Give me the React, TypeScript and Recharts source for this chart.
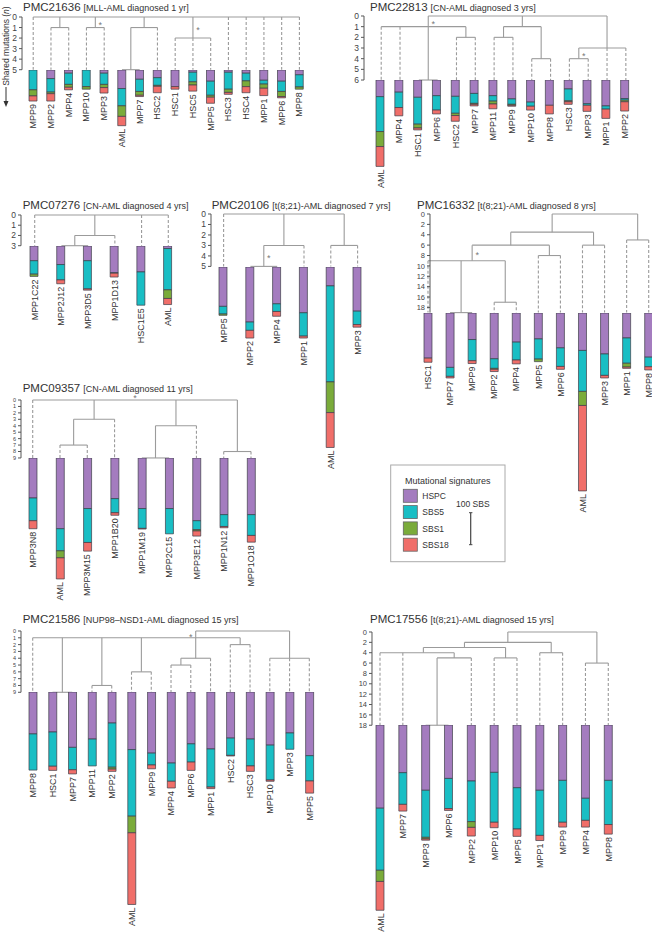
import React from 'react';
import { ComposedChart, Bar, XAxis, YAxis, Scatter, ReferenceLine } from 'recharts';

type TNode = string | { d: number; c: TNode[]; x?: number; star?: 'r' | 'l' | 't' };

const FONT = '"Liberation Sans", Arial, Helvetica, sans-serif';
const PX_PER_SBS = 0.32;
const SIGNATURES = ['HSPC', 'SBS5', 'SBS1', 'SBS18'];
const COLORS: Record<string, string> = { HSPC: '#a47cbf', SBS5: '#19bec4', SBS1: '#7aab3a', SBS18: '#f06e69' };

// ---------- PMC21636 ----------
const p1Names = ['MPP9', 'MPP2', 'MPP4', 'MPP10', 'MPP3', 'AML', 'MPP7', 'HSC2', 'HSC1', 'HSC5', 'MPP5', 'HSC3', 'HSC4', 'MPP1', 'MPP6', 'MPP8'];
const p1HSPC = [0, 27, 10, 0, 10, 58, 29, 24, 52, 7, 35, 7, 10, 32, 35, 15];
const p1SBS5 = [62, 42, 35, 52, 35, 54, 38, 24, 0, 30, 44, 53, 24, 12, 32, 38];
const p1SBS1 = [19, 5, 9, 8, 10, 33, 12, 3, 0, 10, 6, 10, 18, 13, 16, 7];
const p1SBS18 = [16, 23, 8, 0, 17, 29, 4, 20, 8, 19, 19, 6, 19, 23, 4, 0];
const p1Ticks = [0, 1, 2, 3, 4, 5];
const p1Tree: TNode = {
  d: 0,
  c: [
    'MPP9',
    { d: 1, c: ['MPP2', 'MPP4'] },
    { d: 1, c: ['MPP10', 'MPP3'], star: 'r' },
    { d: 1, c: [{ d: 5, c: ['AML', 'MPP7'] }, 'HSC2'] },
    { d: 2, c: ['HSC1', 'HSC5', 'MPP5'], star: 'r' },
    'HSC3', 'HSC4', 'MPP1', 'MPP6', 'MPP8',
  ],
};

// ---------- PMC22813 ----------
const p2Names = ['AML', 'MPP4', 'HSC1', 'MPP6', 'HSC2', 'MPP7', 'MPP11', 'MPP9', 'MPP10', 'MPP8', 'HSC3', 'MPP3', 'MPP1', 'MPP2'];
const p2HSPC = [52, 38, 54, 49, 51, 42, 49, 59, 69, 79, 28, 74, 81, 58];
const p2SBS5 = [109, 48, 84, 45, 53, 31, 17, 17, 13, 0, 37, 5, 10, 5];
const p2SBS1 = [47, 0, 12, 0, 7, 3, 9, 3, 0, 0, 3, 0, 0, 5];
const p2SBS18 = [62, 26, 6, 12, 18, 5, 15, 3, 12, 27, 8, 19, 29, 29];
const p2Ticks = [0, 1, 2, 3, 4, 5, 6];
const p2Tree: TNode = {
  d: 0,
  c: [
    { d: 1, x: 2.5, star: 'r', c: ['AML', 'MPP4', { d: 6, c: ['HSC1', 'MPP6'] }, { d: 2, c: ['HSC2', 'MPP7'] }] },
    { d: 1, c: [{ d: 2, c: ['MPP11', 'MPP9'] }, { d: 4, c: ['MPP10', 'MPP8'] }] },
    { d: 3, x: 12, c: [{ d: 4, star: 'r', c: ['HSC3', 'MPP3'] }, 'MPP1', 'MPP2'] },
  ],
};

// ---------- PMC07276 ----------
const p3Names = ['MPP1C22', 'MPP2J12', 'MPP3D5', 'MPP1D13', 'HSC1E5', 'AML'];
const p3HSPC = [46, 58, 46, 84, 81, 8];
const p3SBS5 = [42, 48, 88, 1, 104, 129];
const p3SBS1 = [7, 0, 0, 0, 0, 27];
const p3SBS18 = [0, 12, 4, 12, 0, 19];
const p3Ticks = [0, 1, 2, 3];
const p3Tree: TNode = {
  d: 0,
  c: ['MPP1C22', { d: 2, c: [{ d: 3, c: ['MPP2J12', 'MPP3D5'] }, 'MPP1D13'] }, 'HSC1E5', 'AML'],
};

// ---------- PMC20106 ----------
const p4Names = ['MPP5', 'MPP2', 'MPP4', 'MPP1', 'AML', 'MPP3'];
const p4HSPC = [123, 172, 115, 143, 59, 138];
const p4SBS5 = [24, 26, 24, 73, 300, 42];
const p4SBS1 = [4, 0, 0, 0, 96, 0];
const p4SBS18 = [0, 24, 15, 6, 109, 8];
const p4Ticks = [0, 1, 2, 3, 4, 5];
const p4Tree: TNode = {
  d: 0,
  c: ['MPP5', { d: 3, c: [{ d: 5, star: 'r', c: ['MPP2', 'MPP4'] }, 'MPP1'] }, { d: 3, c: ['AML', 'MPP3'] }],
};

// ---------- PMC16332 ----------
const p5Names = ['HSC1', 'MPP7', 'MPP9', 'MPP2', 'MPP4', 'MPP5', 'MPP6', 'AML', 'MPP3', 'MPP1', 'MPP8'];
const p5HSPC = [141, 170, 83, 143, 91, 81, 109, 117, 128, 78, 138];
const p5SBS5 = [0, 28, 66, 30, 56, 63, 58, 128, 67, 79, 30];
const p5SBS1 = [0, 0, 0, 3, 0, 8, 0, 44, 0, 12, 0];
const p5SBS18 = [13, 5, 9, 7, 12, 0, 9, 267, 8, 4, 10];
const p5Ticks = [0, 2, 4, 6, 8, 10, 12, 14, 16, 18];
const p5Tree: TNode = {
  d: 0,
  c: [
    {
      d: 3.5,
      c: [
        {
          d: 6,
          c: [
            { d: 9, x: 2, star: 'r', c: ['HSC1', { d: 19, c: ['MPP7', 'MPP9'] }, { d: 17, c: ['MPP2', 'MPP4'] }] },
            { d: 8, c: ['MPP5', 'MPP6'] },
          ],
        },
        { d: 6, c: ['AML', 'MPP3'] },
      ],
    },
    { d: 5, c: ['MPP1', 'MPP8'] },
  ],
};

// ---------- PMC09357 ----------
const p6Names = ['MPP3N8', 'AML', 'MPP3M15', 'MPP1B20', 'MPP1M19', 'MPP2C15', 'MPP3E12', 'MPP1N12', 'MPP1O18'];
const p6HSPC = [125, 221, 158, 127, 158, 158, 196, 177, 177];
const p6SBS5 = [71, 69, 106, 44, 62, 79, 28, 37, 65];
const p6SBS1 = [0, 22, 0, 0, 0, 0, 4, 0, 0];
const p6SBS18 = [25, 66, 27, 8, 2, 0, 16, 4, 21];
const p6Ticks = [0, 1, 2, 3, 4, 5, 6, 7, 8, 9];
const p6Tree: TNode = {
  d: 0,
  star: 't',
  c: [
    'MPP3N8',
    { d: 3, c: [{ d: 7, c: ['AML', 'MPP3M15'] }, 'MPP1B20'] },
    { d: 4, c: [{ d: 9, c: ['MPP1M19', 'MPP2C15'] }, 'MPP3E12'] },
    { d: 8, c: ['MPP1N12', 'MPP1O18'] },
  ],
};

// ---------- PMC21586 ----------
const p7Names = ['MPP8', 'HSC1', 'MPP7', 'MPP11', 'MPP2', 'AML', 'MPP9', 'MPP4', 'MPP6', 'MPP1', 'HSC2', 'HSC3', 'MPP10', 'MPP3', 'MPP5'];
const p7HSPC = [131, 125, 173, 147, 97, 180, 191, 222, 162, 178, 144, 147, 166, 128, 199];
const p7SBS5 = [113, 107, 70, 84, 138, 208, 37, 57, 57, 119, 54, 84, 109, 51, 79];
const p7SBS1 = [0, 0, 0, 0, 6, 52, 0, 0, 0, 0, 0, 0, 0, 0, 0];
const p7SBS18 = [0, 13, 13, 0, 7, 224, 12, 21, 26, 5, 2, 17, 4, 0, 38];
const p7Ticks = [0, 1, 2, 3, 4, 5, 6, 7, 8, 9];
const p7Tree: TNode = {
  d: 0,
  c: [
    {
      d: 1,
      x: 8.25,
      star: 'l',
      c: [
        'MPP8',
        { d: 9, c: ['HSC1', 'MPP7'] },
        { d: 8, c: ['MPP11', 'MPP2'] },
        { d: 6, c: ['AML', 'MPP9'] },
        { d: 4, c: [{ d: 5, c: ['MPP4', 'MPP6'] }, 'MPP1'] },
        { d: 2, c: ['HSC2', 'HSC3'] },
      ],
    },
    { d: 4, c: ['MPP10', 'MPP3', 'MPP5'] },
  ],
};

// ---------- PMC17556 ----------
const p8Names = ['AML', 'MPP7', 'MPP3', 'MPP6', 'MPP2', 'MPP10', 'MPP5', 'MPP1', 'MPP9', 'MPP4', 'MPP8'];
const p8HSPC = [260, 149, 204, 167, 175, 148, 196, 204, 173, 229, 173];
const p8SBS5 = [194, 99, 147, 94, 127, 156, 129, 141, 131, 69, 138];
const p8SBS1 = [35, 0, 5, 0, 18, 0, 0, 0, 0, 0, 0];
const p8SBS18 = [90, 21, 4, 6, 27, 17, 23, 16, 15, 21, 30];
const p8Ticks = [0, 2, 4, 6, 8, 10, 12, 14, 16, 18];
const p8Tree: TNode = {
  d: 0,
  c: [
    {
      d: 2,
      c: [
        {
          d: 3,
          c: [
            { d: 4, x: 1.9, c: ['AML', 'MPP7', { d: 5, c: [{ d: 18, c: ['MPP3', 'MPP6'] }, 'MPP2'] }] },
            { d: 5, c: ['MPP10', 'MPP5'] },
          ],
        },
        { d: 4, c: ['MPP1', 'MPP9'] },
      ],
    },
    { d: 6, c: ['MPP4', 'MPP8'] },
  ],
};

interface Layout {
  axisX: number; leaf0: number; sp: number; treeTop: number; pxPerD: number; maxD: number;
  tickFont: number; titleX: number; titleY: number;
}

interface PanelDef {
  id: string; sub: string; names: string[]; hspc: number[]; sbs5: number[]; sbs1: number[]; sbs18: number[];
  tree: TNode; ticks: number[]; layout: Layout;
}

const PANELS: PanelDef[] = [
  { id: 'PMC21636', sub: '[MLL-AML diagnosed 1 yr]', names: p1Names, hspc: p1HSPC, sbs5: p1SBS5, sbs1: p1SBS1, sbs18: p1SBS18, tree: p1Tree, ticks: p1Ticks,
    layout: { axisX: 21.5, leaf0: 32.7, sp: 17.75, treeTop: 17.3, pxPerD: 10.54, maxD: 5, tickFont: 8.5, titleX: 23, titleY: 10.5 } },
  { id: 'PMC22813', sub: '[CN-AML diagnosed 3 yrs]', names: p2Names, hspc: p2HSPC, sbs5: p2SBS5, sbs1: p2SBS1, sbs18: p2SBS18, tree: p2Tree, ticks: p2Ticks,
    layout: { axisX: 363.5, leaf0: 380.7, sp: 18.82, treeTop: 16, pxPerD: 10.67, maxD: 6, tickFont: 8.5, titleX: 370, titleY: 10.5 } },
  { id: 'PMC07276', sub: '[CN-AML diagnosed 4 yrs]', names: p3Names, hspc: p3HSPC, sbs5: p3SBS5, sbs1: p3SBS1, sbs18: p3SBS18, tree: p3Tree, ticks: p3Ticks,
    layout: { axisX: 21, leaf0: 34.7, sp: 26.72, treeTop: 215, pxPerD: 10.23, maxD: 3, tickFont: 8.5, titleX: 22.7, titleY: 208.5 } },
  { id: 'PMC20106', sub: '[t(8;21)-AML diagnosed 7 yrs]', names: p4Names, hspc: p4HSPC, sbs5: p4SBS5, sbs1: p4SBS1, sbs18: p4SBS18, tree: p4Tree, ticks: p4Ticks,
    layout: { axisX: 210.7, leaf0: 223.3, sp: 26.8, treeTop: 214.3, pxPerD: 10.48, maxD: 5, tickFont: 8.5, titleX: 211.7, titleY: 208.5 } },
  { id: 'PMC16332', sub: '[t(8;21)-AML diagnosed 8 yrs]', names: p5Names, hspc: p5HSPC, sbs5: p5SBS5, sbs1: p5SBS1, sbs18: p5SBS18, tree: p5Tree, ticks: p5Ticks,
    layout: { axisX: 430, leaf0: 428, sp: 22.07, treeTop: 214.3, pxPerD: 5.19, maxD: 19, tickFont: 7.5, titleX: 417, titleY: 208.5 } },
  { id: 'PMC09357', sub: '[CN-AML diagnosed 11 yrs]', names: p6Names, hspc: p6HSPC, sbs5: p6SBS5, sbs1: p6SBS1, sbs18: p6SBS18, tree: p6Tree, ticks: p6Ticks,
    layout: { axisX: 21, leaf0: 32.7, sp: 27.29, treeTop: 399.7, pxPerD: 6.44, maxD: 9, tickFont: 5.5, titleX: 22.7, titleY: 391.7 } },
  { id: 'PMC21586', sub: '[NUP98\u2013NSD1-AML diagnosed 15 yrs]', names: p7Names, hspc: p7HSPC, sbs5: p7SBS5, sbs1: p7SBS1, sbs18: p7SBS18, tree: p7Tree, ticks: p7Ticks,
    layout: { axisX: 21, leaf0: 32.7, sp: 19.76, treeTop: 631, pxPerD: 6.81, maxD: 9, tickFont: 5.5, titleX: 22.7, titleY: 623 } },
  { id: 'PMC17556', sub: '[t(8;21)-AML diagnosed 15 yrs]', names: p8Names, hspc: p8HSPC, sbs5: p8SBS5, sbs1: p8SBS1, sbs18: p8SBS18, tree: p8Tree, ticks: p8Ticks,
    layout: { axisX: 372, leaf0: 380, sp: 22.83, treeTop: 631.7, pxPerD: 5.18, maxD: 18, tickFont: 7.5, titleX: 370, titleY: 623 } },
];

interface Seg { x1: number; y1: number; x2: number; y2: number; dashed: boolean }

function buildTree(root: TNode, names: string[], maxD: number) {
  const segs: Seg[] = [];
  const nodes: { x: number; y: number; star?: string }[] = [];
  const walk = (n: TNode, parentD: number | null): number => {
    if (typeof n === 'string') {
      const x = names.indexOf(n);
      if (parentD !== null && maxD > parentD) segs.push({ x1: x, y1: parentD, x2: x, y2: maxD, dashed: true });
      return x;
    }
    const xs = n.c.map((ch) => walk(ch, n.d));
    const lo = Math.min(...xs);
    const hi = Math.max(...xs);
    const x = n.x !== undefined ? n.x : (xs[0] + xs[xs.length - 1]) / 2;
    segs.push({ x1: lo, y1: n.d, x2: hi, y2: n.d, dashed: false });
    if (parentD !== null) segs.push({ x1: x, y1: parentD, x2: x, y2: n.d, dashed: false });
    nodes.push({ x, y: n.star && parentD !== null ? (parentD + n.d) / 2 : n.d, star: n.star });
    return x;
  };
  walk(root, null);
  return { segs, nodes };
}

const StarShape = (props: any) => {
  const { cx, cy, payload } = props;
  if (!payload || !payload.star) return <g />;
  const dx = payload.star === 'r' ? 5 : payload.star === 'l' ? -5 : 0;
  const dy = payload.star === 't' ? -4 : 0;
  return (
    <text x={cx + dx} y={cy + dy} dy="0.6em" textAnchor="middle" fontSize={9} fill="#777" fontFamily={FONT}>
      *
    </text>
  );
};

const LeafLabel = (props: any) => {
  const { cx, cy, payload } = props;
  return (
    <text
      transform={`translate(${cx},${cy + 3}) rotate(-90)`}
      textAnchor="end"
      dy="0.35em"
      fontSize={9}
      fill="#333"
      fontFamily={FONT}
    >
      {payload.name}
    </text>
  );
};

function TreeChart({ p }: { p: PanelDef }) {
  const L = p.layout;
  const n = p.names.length;
  const { segs, nodes } = buildTree(p.tree, p.names, L.maxD);
  const YW = 34;
  const MT = 8;
  const MB = 6;
  const xMin = -(L.leaf0 - L.axisX) / L.sp;
  const xMax = n - 0.5;
  const plotW = (xMax - xMin) * L.sp;
  const plotH = L.maxD * L.pxPerD;
  return (
    <div style={{ position: 'absolute', left: L.axisX - YW, top: L.treeTop - MT }}>
      <ComposedChart width={YW + plotW} height={MT + plotH + MB} margin={{ top: MT, right: 0, bottom: MB, left: 0 }} data={nodes}>
        <XAxis type="number" dataKey="x" domain={[xMin, xMax]} hide />
        <YAxis
          type="number"
          dataKey="y"
          domain={[0, L.maxD]}
          reversed
          ticks={p.ticks}
          interval={0}
          width={YW}
          tickSize={3}
          tickMargin={2}
          stroke="#555"
          tick={{ fontSize: L.tickFont, fill: '#444', fontFamily: FONT }}
        />
        {segs.map((s, k) => (
          <ReferenceLine
            key={k}
            segment={[{ x: s.x1, y: s.y1 }, { x: s.x2, y: s.y2 }]}
            stroke="#9b9b9b"
            strokeWidth={1.1}
            strokeDasharray={s.dashed ? '3 2' : undefined}
            ifOverflow="visible"
          />
        ))}
        <Scatter dataKey="y" shape={StarShape} isAnimationActive={false} />
      </ComposedChart>
    </div>
  );
}

function BarsChart({ p }: { p: PanelDef }) {
  const L = p.layout;
  const n = p.names.length;
  const rows = p.names.map((name, i) => ({
    i,
    name,
    HSPC: p.hspc[i],
    SBS5: p.sbs5[i],
    SBS1: p.sbs1[i],
    SBS18: p.sbs18[i],
    total: p.hspc[i] + p.sbs5[i] + p.sbs1[i] + p.sbs18[i],
  }));
  const maxTotal = Math.max(...rows.map((r) => r.total));
  const plotH = Math.ceil(maxTotal * PX_PER_SBS + 45);
  const dmax = plotH / PX_PER_SBS;
  const barTop = L.treeTop + L.maxD * L.pxPerD;
  return (
    <div style={{ position: 'absolute', left: L.leaf0 - L.sp / 2, top: barTop }}>
      <ComposedChart width={n * L.sp} height={plotH} margin={{ top: 0, right: 0, bottom: 0, left: 0 }} data={rows}>
        <XAxis type="number" dataKey="i" domain={[-0.5, n - 0.5]} hide />
        <YAxis type="number" dataKey="total" domain={[0, dmax]} reversed hide />
        {SIGNATURES.map((s) => (
          <Bar key={s} dataKey={s} stackId="sig" fill={COLORS[s]} stroke="#3d3d48" strokeWidth={0.7} barSize={8} isAnimationActive={false} />
        ))}
        <Scatter dataKey="total" shape={LeafLabel} isAnimationActive={false} />
      </ComposedChart>
    </div>
  );
}

function Overlay() {
  const lx = 390.7;
  const ly = 465;
  return (
    <svg width={652} height={933} style={{ position: 'absolute', left: 0, top: 0 }}>
      {PANELS.map((p) => (
        <text key={p.id} x={p.layout.titleX} y={p.layout.titleY} fill="#333" fontFamily={FONT}>
          <tspan fontSize={11.5}>{p.id}</tspan>
          <tspan fontSize={9} dx={3}>{p.sub}</tspan>
        </text>
      ))}
      <text transform="translate(9,46) rotate(-90)" textAnchor="middle" fontSize={8.5} fill="#333" fontFamily={FONT}>
        Shared mutations (<tspan fontStyle="italic">n</tspan>)
      </text>
      <line x1={6} y1={87} x2={6} y2={102} stroke="#333" strokeWidth={1} />
      <polygon points="3.5,101 8.5,101 6,107" fill="#333" />
      <rect x={lx} y={ly} width={114.3} height={96.7} fill="#fff" stroke="#aaa" strokeWidth={1} />
      <text x={405} y={483.5} fontSize={9} fill="#333" fontFamily={FONT}>Mutational signatures</text>
      {SIGNATURES.map((s, k) => (
        <g key={s}>
          <rect x={403.3} y={489.3 + k * 16.3} width={14} height={13} fill={COLORS[s]} stroke="#666" strokeWidth={0.8} />
          <text x={422.3} y={499 + k * 16.3} fontSize={8.5} fill="#333" fontFamily={FONT}>{s}</text>
        </g>
      ))}
      <text x={456} y={507} fontSize={8.5} fill="#333" fontFamily={FONT}>100 SBS</text>
      <line x1={470.7} y1={512.7} x2={470.7} y2={512.7 + 100 * PX_PER_SBS} stroke="#444" strokeWidth={1.2} />
      <line x1={469} y1={512.7} x2={472.4} y2={512.7} stroke="#444" strokeWidth={1} />
      <line x1={469} y1={512.7 + 100 * PX_PER_SBS} x2={472.4} y2={512.7 + 100 * PX_PER_SBS} stroke="#444" strokeWidth={1} />
    </svg>
  );
}

export default function App() {
  return (
    <div style={{ position: 'absolute', left: 0, top: 0, width: 652, height: 933, background: '#fff', fontFamily: FONT }}>
      <Overlay />
      {PANELS.map((p) => (
        <React.Fragment key={p.id}>
          <TreeChart p={p} />
          <BarsChart p={p} />
        </React.Fragment>
      ))}
    </div>
  );
}
